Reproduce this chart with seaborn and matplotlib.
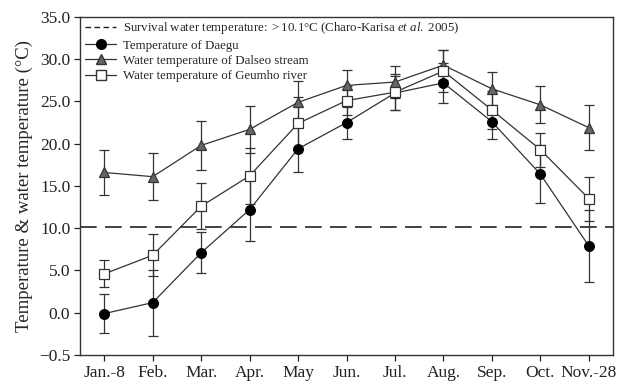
import numpy as np
import pandas as pd
import matplotlib
matplotlib.use("Agg")
import matplotlib.pyplot as plt
import seaborn as sns
from matplotlib.lines import Line2D

months = ["Jan.-8", "Feb.", "Mar.", "Apr.", "May", "Jun.", "Jul.", "Aug.", "Sep.", "Oct.", "Nov.-28"]
daegu = [-0.1, 1.2, 7.1, 12.2, 19.4, 22.5, 26.0, 27.2, 22.6, 16.4, 7.9]
daegu_err = [2.3, 3.9, 2.4, 3.7, 2.8, 1.9, 2.0, 2.4, 2.0, 3.4, 4.3]
dalseo = [16.6, 16.1, 19.8, 21.7, 24.9, 26.9, 27.3, 29.3, 26.5, 24.6, 21.9]
dalseo_err = [2.7, 2.8, 2.9, 2.8, 2.5, 1.8, 1.9, 1.8, 2.0, 2.2, 2.7]
geumho = [4.6, 6.8, 12.6, 16.2, 22.4, 25.1, 26.1, 28.6, 24.0, 19.3, 13.5]
geumho_err = [1.6, 2.5, 2.7, 3.3, 3.1, 1.7, 2.1, 2.5, 2.2, 2.0, 2.6]
survival = 10.1
ytick_vals = [-5, 0, 5, 10, 15, 20, 25, 30, 35]
ytick_labels = ["\u22120.5", "0.0", "5.0", "10.0", "15.0", "20.0", "25.0", "30.0", "35.0"]

sns.set_theme(style="ticks")
plt.rcParams["font.family"] = ["Liberation Serif", "DejaVu Serif"]
plt.rcParams["mathtext.fontset"] = "custom"
plt.rcParams["mathtext.rm"] = "Liberation Serif"
plt.rcParams["mathtext.it"] = "Liberation Serif:italic"

x = np.arange(len(months))
df = pd.DataFrame({
    "x": np.concatenate([x, x, x]),
    "value": daegu + dalseo + geumho,
    "series": ["Daegu"] * len(x) + ["Dalseo"] * len(x) + ["Geumho"] * len(x),
})

fig = plt.figure(figsize=(6.22, 3.89), dpi=100)
ax = fig.add_axes([0.1286, 0.0874, 0.857, 0.869])

ax.axhline(survival, color="#222222", lw=1.2, ls=(0, (10, 5)), zorder=1)

for vals, errs in [(daegu, daegu_err), (dalseo, dalseo_err), (geumho, geumho_err)]:
    ax.errorbar(x, vals, yerr=errs, fmt="none", ecolor="#333333", elinewidth=0.9,
                capsize=3.8, capthick=0.9, zorder=2)

MS = 7
styles = {
    "Daegu": dict(marker="o", mfc="black", mec="black"),
    "Dalseo": dict(marker="^", mfc="#666666", mec="#333333"),
    "Geumho": dict(marker="s", mfc="white", mec="#333333"),
}
for name, st in styles.items():
    sub = df[df["series"] == name]
    sns.lineplot(data=sub, x="x", y="value", ax=ax, color="#333333", lw=0.9,
                 marker=st["marker"], markersize=MS, markerfacecolor=st["mfc"],
                 markeredgecolor=st["mec"], markeredgewidth=0.9, zorder=3, legend=False)

ax.set_xlim(-0.5, 10.5)
ax.set_ylim(-5, 35)
ax.set_xticks(x)
ax.set_xticklabels(months, fontsize=12.5)
ax.set_yticks(ytick_vals)
ax.set_yticklabels(ytick_labels, fontsize=12.5)
ax.set_xlabel("")
ax.set_ylabel("Temperature & water temperature (\u00b0C)", fontsize=13.5, labelpad=4)
ax.tick_params(direction="out", length=4, width=0.9, colors="#222222", pad=3)
for s in ax.spines.values():
    s.set_linewidth(1.0)
    s.set_color("#333333")

handles = [
    Line2D([], [], color="#222222", lw=1.0, ls=(0, (4, 2.5))),
    Line2D([], [], color="#333333", lw=0.9, marker="o", ms=MS, mfc="black", mec="black"),
    Line2D([], [], color="#333333", lw=0.9, marker="^", ms=MS, mfc="#666666", mec="#333333"),
    Line2D([], [], color="#333333", lw=0.9, marker="s", ms=MS, mfc="white", mec="#333333"),
]
labels = [
    r"Survival water temperature: $>$10.1$\degree$C (Charo-Karisa $\it{et\ al.}$ 2005)",
    "Temperature of Daegu",
    "Water temperature of Dalseo stream",
    "Water temperature of Geumho river",
]
ax.legend(handles, labels, loc="upper left", frameon=False, fontsize=9.3,
          handlelength=2.4, handletextpad=0.55, labelspacing=0.25,
          borderaxespad=0.0, bbox_to_anchor=(0.0, 1.005))

fig.savefig("out.png", dpi=100)
